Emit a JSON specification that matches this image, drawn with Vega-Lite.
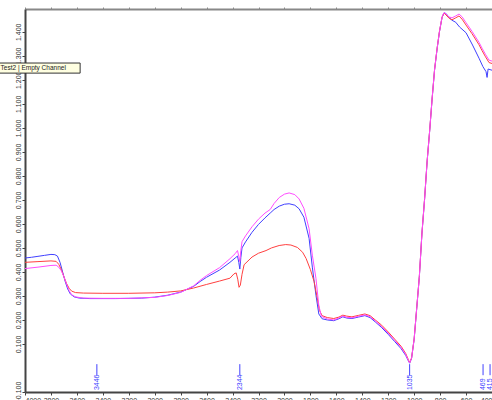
{
"$schema": "https://vega.github.io/schema/vega-lite/v6.json",
"width": 467, "height": 383,
"autosize": {"type": "none"},
"padding": {"left": 25, "top": 9, "right": 0, "bottom": 8},
"background": "white",
"config": {"view": {"stroke": null}, "font": "Liberation Sans", "axis": {"labelOverlap": false}},
"datasets": {
"spec": [
{"s":"b","w":4000,"v":0.458},{"s":"b","w":3950,"v":0.461},{"s":"b","w":3900,"v":0.465},{"s":"b","w":3850,"v":0.469},{"s":"b","w":3800,"v":0.473},{"s":"b","w":3770,"v":0.472},{"s":"b","w":3750,"v":0.466},{"s":"b","w":3730,"v":0.44},{"s":"b","w":3710,"v":0.4},{"s":"b","w":3690,"v":0.36},{"s":"b","w":3670,"v":0.328},{"s":"b","w":3650,"v":0.308},{"s":"b","w":3620,"v":0.296},{"s":"b","w":3580,"v":0.291},{"s":"b","w":3500,"v":0.289},{"s":"b","w":3400,"v":0.289},{"s":"b","w":3300,"v":0.289},{"s":"b","w":3200,"v":0.29},{"s":"b","w":3100,"v":0.291},{"s":"b","w":3000,"v":0.295},{"s":"b","w":2900,"v":0.303},{"s":"b","w":2800,"v":0.316},{"s":"b","w":2700,"v":0.34},{"s":"b","w":2650,"v":0.36},{"s":"b","w":2600,"v":0.378},{"s":"b","w":2500,"v":0.408},{"s":"b","w":2420,"v":0.44},{"s":"b","w":2380,"v":0.458},{"s":"b","w":2362,"v":0.466},{"s":"b","w":2352,"v":0.44},{"s":"b","w":2344,"v":0.412},{"s":"b","w":2336,"v":0.46},{"s":"b","w":2327,"v":0.5},{"s":"b","w":2300,"v":0.525},{"s":"b","w":2250,"v":0.565},{"s":"b","w":2200,"v":0.598},{"s":"b","w":2150,"v":0.625},{"s":"b","w":2110,"v":0.645},{"s":"b","w":2080,"v":0.66},{"s":"b","w":2040,"v":0.674},{"s":"b","w":2000,"v":0.682},{"s":"b","w":1964,"v":0.684},{"s":"b","w":1920,"v":0.678},{"s":"b","w":1887,"v":0.663},{"s":"b","w":1850,"v":0.628},{"s":"b","w":1810,"v":0.54},{"s":"b","w":1785,"v":0.42},{"s":"b","w":1757,"v":0.303},{"s":"b","w":1735,"v":0.225},{"s":"b","w":1710,"v":0.205},{"s":"b","w":1670,"v":0.2},{"s":"b","w":1620,"v":0.197},{"s":"b","w":1580,"v":0.205},{"s":"b","w":1550,"v":0.213},{"s":"b","w":1520,"v":0.208},{"s":"b","w":1480,"v":0.206},{"s":"b","w":1430,"v":0.212},{"s":"b","w":1380,"v":0.218},{"s":"b","w":1340,"v":0.21},{"s":"b","w":1300,"v":0.192},{"s":"b","w":1250,"v":0.168},{"s":"b","w":1200,"v":0.14},{"s":"b","w":1150,"v":0.11},{"s":"b","w":1100,"v":0.08},{"s":"b","w":1065,"v":0.052},{"s":"b","w":1045,"v":0.03},{"s":"b","w":1035,"v":0.02},{"s":"b","w":1020,"v":0.04},{"s":"b","w":1000,"v":0.12},{"s":"b","w":980,"v":0.25},{"s":"b","w":960,"v":0.38},{"s":"b","w":940,"v":0.56},{"s":"b","w":920,"v":0.7},{"s":"b","w":900,"v":0.86},{"s":"b","w":880,"v":0.99},{"s":"b","w":862,"v":1.118},{"s":"b","w":843,"v":1.24},{"s":"b","w":823,"v":1.33},{"s":"b","w":805,"v":1.4},{"s":"b","w":785,"v":1.46},{"s":"b","w":770,"v":1.479},{"s":"b","w":754,"v":1.476},{"s":"b","w":735,"v":1.462},{"s":"b","w":708,"v":1.448},{"s":"b","w":680,"v":1.44},{"s":"b","w":650,"v":1.42},{"s":"b","w":600,"v":1.396},{"s":"b","w":550,"v":1.345},{"s":"b","w":500,"v":1.29},{"s":"b","w":470,"v":1.255},{"s":"b","w":446,"v":1.234},{"s":"b","w":438,"v":1.21},{"s":"b","w":430,"v":1.245},{"s":"b","w":400,"v":1.24},
{"s":"r","w":4000,"v":0.44},{"s":"r","w":3900,"v":0.443},{"s":"r","w":3800,"v":0.446},{"s":"r","w":3760,"v":0.444},{"s":"r","w":3740,"v":0.432},{"s":"r","w":3720,"v":0.41},{"s":"r","w":3700,"v":0.38},{"s":"r","w":3680,"v":0.352},{"s":"r","w":3660,"v":0.332},{"s":"r","w":3640,"v":0.32},{"s":"r","w":3610,"v":0.314},{"s":"r","w":3550,"v":0.312},{"s":"r","w":3400,"v":0.311},{"s":"r","w":3200,"v":0.311},{"s":"r","w":3000,"v":0.313},{"s":"r","w":2900,"v":0.316},{"s":"r","w":2800,"v":0.321},{"s":"r","w":2700,"v":0.333},{"s":"r","w":2600,"v":0.348},{"s":"r","w":2500,"v":0.362},{"s":"r","w":2420,"v":0.374},{"s":"r","w":2389,"v":0.392},{"s":"r","w":2372,"v":0.396},{"s":"r","w":2360,"v":0.37},{"s":"r","w":2350,"v":0.336},{"s":"r","w":2340,"v":0.345},{"s":"r","w":2327,"v":0.39},{"s":"r","w":2311,"v":0.43},{"s":"r","w":2250,"v":0.462},{"s":"r","w":2200,"v":0.478},{"s":"r","w":2142,"v":0.489},{"s":"r","w":2100,"v":0.5},{"s":"r","w":2041,"v":0.51},{"s":"r","w":1990,"v":0.514},{"s":"r","w":1950,"v":0.512},{"s":"r","w":1900,"v":0.502},{"s":"r","w":1860,"v":0.482},{"s":"r","w":1833,"v":0.456},{"s":"r","w":1800,"v":0.41},{"s":"r","w":1772,"v":0.361},{"s":"r","w":1750,"v":0.3},{"s":"r","w":1730,"v":0.24},{"s":"r","w":1710,"v":0.218},{"s":"r","w":1670,"v":0.21},{"s":"r","w":1620,"v":0.206},{"s":"r","w":1580,"v":0.212},{"s":"r","w":1550,"v":0.22},{"s":"r","w":1520,"v":0.216},{"s":"r","w":1480,"v":0.213},{"s":"r","w":1430,"v":0.219},{"s":"r","w":1380,"v":0.225},{"s":"r","w":1340,"v":0.218},{"s":"r","w":1300,"v":0.2},{"s":"r","w":1250,"v":0.178},{"s":"r","w":1200,"v":0.15},{"s":"r","w":1150,"v":0.12},{"s":"r","w":1100,"v":0.09},{"s":"r","w":1065,"v":0.06},{"s":"r","w":1045,"v":0.035},{"s":"r","w":1035,"v":0.022},{"s":"r","w":1020,"v":0.042},{"s":"r","w":1000,"v":0.122},{"s":"r","w":980,"v":0.252},{"s":"r","w":960,"v":0.382},{"s":"r","w":940,"v":0.562},{"s":"r","w":920,"v":0.702},{"s":"r","w":900,"v":0.862},{"s":"r","w":880,"v":0.992},{"s":"r","w":862,"v":1.12},{"s":"r","w":843,"v":1.242},{"s":"r","w":823,"v":1.332},{"s":"r","w":805,"v":1.402},{"s":"r","w":785,"v":1.46},{"s":"r","w":770,"v":1.478},{"s":"r","w":754,"v":1.47},{"s":"r","w":730,"v":1.456},{"s":"r","w":708,"v":1.45},{"s":"r","w":680,"v":1.458},{"s":"r","w":654,"v":1.466},{"s":"r","w":630,"v":1.452},{"s":"r","w":600,"v":1.428},{"s":"r","w":554,"v":1.392},{"s":"r","w":500,"v":1.346},{"s":"r","w":477,"v":1.322},{"s":"r","w":450,"v":1.296},{"s":"r","w":423,"v":1.272},{"s":"r","w":400,"v":1.268},
{"s":"m","w":4000,"v":0.414},{"s":"m","w":3900,"v":0.42},{"s":"m","w":3800,"v":0.427},{"s":"m","w":3760,"v":0.428},{"s":"m","w":3740,"v":0.42},{"s":"m","w":3720,"v":0.405},{"s":"m","w":3700,"v":0.38},{"s":"m","w":3680,"v":0.35},{"s":"m","w":3660,"v":0.322},{"s":"m","w":3640,"v":0.305},{"s":"m","w":3610,"v":0.296},{"s":"m","w":3550,"v":0.291},{"s":"m","w":3400,"v":0.29},{"s":"m","w":3200,"v":0.29},{"s":"m","w":3000,"v":0.294},{"s":"m","w":2900,"v":0.302},{"s":"m","w":2800,"v":0.315},{"s":"m","w":2700,"v":0.342},{"s":"m","w":2650,"v":0.365},{"s":"m","w":2600,"v":0.385},{"s":"m","w":2500,"v":0.418},{"s":"m","w":2420,"v":0.455},{"s":"m","w":2380,"v":0.476},{"s":"m","w":2362,"v":0.489},{"s":"m","w":2352,"v":0.465},{"s":"m","w":2344,"v":0.443},{"s":"m","w":2336,"v":0.49},{"s":"m","w":2327,"v":0.526},{"s":"m","w":2300,"v":0.55},{"s":"m","w":2250,"v":0.588},{"s":"m","w":2200,"v":0.62},{"s":"m","w":2150,"v":0.645},{"s":"m","w":2110,"v":0.66},{"s":"m","w":2080,"v":0.685},{"s":"m","w":2040,"v":0.71},{"s":"m","w":2000,"v":0.724},{"s":"m","w":1964,"v":0.729},{"s":"m","w":1920,"v":0.722},{"s":"m","w":1887,"v":0.704},{"s":"m","w":1850,"v":0.665},{"s":"m","w":1810,"v":0.58},{"s":"m","w":1785,"v":0.47},{"s":"m","w":1757,"v":0.373},{"s":"m","w":1735,"v":0.26},{"s":"m","w":1715,"v":0.215},{"s":"m","w":1670,"v":0.204},{"s":"m","w":1620,"v":0.2},{"s":"m","w":1580,"v":0.208},{"s":"m","w":1550,"v":0.216},{"s":"m","w":1520,"v":0.211},{"s":"m","w":1480,"v":0.209},{"s":"m","w":1430,"v":0.215},{"s":"m","w":1380,"v":0.221},{"s":"m","w":1340,"v":0.214},{"s":"m","w":1300,"v":0.196},{"s":"m","w":1250,"v":0.172},{"s":"m","w":1200,"v":0.145},{"s":"m","w":1150,"v":0.115},{"s":"m","w":1100,"v":0.085},{"s":"m","w":1065,"v":0.056},{"s":"m","w":1045,"v":0.032},{"s":"m","w":1035,"v":0.021},{"s":"m","w":1020,"v":0.041},{"s":"m","w":1000,"v":0.121},{"s":"m","w":980,"v":0.251},{"s":"m","w":960,"v":0.381},{"s":"m","w":940,"v":0.561},{"s":"m","w":920,"v":0.701},{"s":"m","w":900,"v":0.861},{"s":"m","w":880,"v":0.991},{"s":"m","w":862,"v":1.119},{"s":"m","w":843,"v":1.241},{"s":"m","w":823,"v":1.331},{"s":"m","w":805,"v":1.401},{"s":"m","w":785,"v":1.462},{"s":"m","w":770,"v":1.48},{"s":"m","w":754,"v":1.474},{"s":"m","w":730,"v":1.462},{"s":"m","w":708,"v":1.458},{"s":"m","w":680,"v":1.466},{"s":"m","w":654,"v":1.474},{"s":"m","w":630,"v":1.462},{"s":"m","w":600,"v":1.438},{"s":"m","w":554,"v":1.402},{"s":"m","w":500,"v":1.356},{"s":"m","w":477,"v":1.332},{"s":"m","w":450,"v":1.306},{"s":"m","w":423,"v":1.282},{"s":"m","w":400,"v":1.278}
],
"peaks": [{"w":3446,"t":"3446"},{"w":2344,"t":"2344"},{"w":1035,"t":"1035"},{"w":469,"t":"469"},{"w":415,"t":"415"}],
"tip": [{"w0":4200,"w1":3575,"v0":1.228,"v1":1.27,"t":"Test2 | Empty Channel"}]
},
"resolve": {"axis": {"x": "independent", "y": "independent"}},
"layer": [
{
"data": {"name": "spec"},
"mark": {"type": "line", "strokeWidth": 1},
"encoding": {
"x": {"field": "w", "type": "quantitative", "scale": {"domain": [400, 4000], "reverse": true, "nice": false, "zero": false},
"axis": {"orient": "bottom", "title": null, "values": [4000,3800,3600,3400,3200,3000,2800,2600,2400,2200,2000,1800,1600,1400,1200,1000,800,600,400], "format": "d", "labelFontSize": 7, "labelColor": "#333", "labelFlush": true, "labelPadding": 1, "tickSize": 3, "tickColor": "#444", "domainColor": "#444", "domainWidth": 2, "grid": false, "labelOverlap": false}},
"y": {"field": "v", "type": "quantitative", "scale": {"domain": [-0.1, 1.495], "nice": false, "zero": false},
"axis": {"orient": "left", "title": null, "values": [-0.1,0.2,0.4,0.6,0.8,1.0,1.2,1.4], "format": ".3f", "labelAngle": -90, "labelAlign": "center", "labelBaseline": "bottom", "labelFontSize": 7, "labelColor": "#333", "labelPadding": 1, "tickSize": 3, "tickColor": "#444", "domainColor": "#444", "domainWidth": 2, "grid": false, "labelOverlap": false, "labelBound": false}},
"color": {"field": "s", "type": "nominal", "scale": {"domain": ["b","r","m"], "range": ["#4040ff","#ff4040","#ff4cff"]}, "legend": null}
}
},
{
"data": {"name": "peaks"},
"mark": {"type": "rule", "color": "#4040ff", "strokeWidth": 1},
"encoding": {
"x": {"field": "w", "type": "quantitative", "axis": {"orient": "top", "title": null, "labels": false, "values": [4000,3800,3600,3400,3200,3000,2800,2600,2400,2200,2000,1800,1600,1400,1200,1000,800,600,400], "tickSize": 2, "tickColor": "#888", "domainColor": "#888", "domainWidth": 2, "grid": false}},
"y": {"datum": -0.03, "axis": {"orient": "left", "title": null, "values": [0.1,0.3,0.5,0.7,0.9,1.1,1.3], "format": ".3f", "labelAngle": -90, "labelAlign": "center", "labelBaseline": "bottom", "labelFontSize": 7, "labelColor": "#333", "labelPadding": 1, "tickSize": 3, "tickColor": "#444", "domain": false, "grid": false, "labelOverlap": false}},
"y2": {"datum": 0.016}
}
},
{
"data": {"name": "peaks"},
"mark": {"type": "text", "angle": 270, "align": "left", "baseline": "middle", "fontSize": 7, "color": "#4040ff"},
"encoding": {
"x": {"field": "w", "type": "quantitative", "axis": null},
"y": {"datum": -0.092, "axis": null},
"text": {"field": "t"}
}
},
{
"data": {"name": "tip"},
"mark": {"type": "rect", "fill": "#ffffe1", "stroke": "#333", "strokeWidth": 1},
"encoding": {
"x": {"field": "w0", "type": "quantitative", "axis": null},
"x2": {"field": "w1"},
"y": {"field": "v0", "type": "quantitative", "axis": null},
"y2": {"field": "v1"}
}
},
{
"data": {"name": "tip"},
"mark": {"type": "text", "align": "left", "baseline": "middle", "fontSize": 6.5, "color": "#222", "dx": 1.5, "dy": 5},
"encoding": {
"x": {"field": "w0", "type": "quantitative", "axis": null},
"y": {"field": "v1", "type": "quantitative", "axis": null},
"text": {"field": "t"}
}
}
]
}
